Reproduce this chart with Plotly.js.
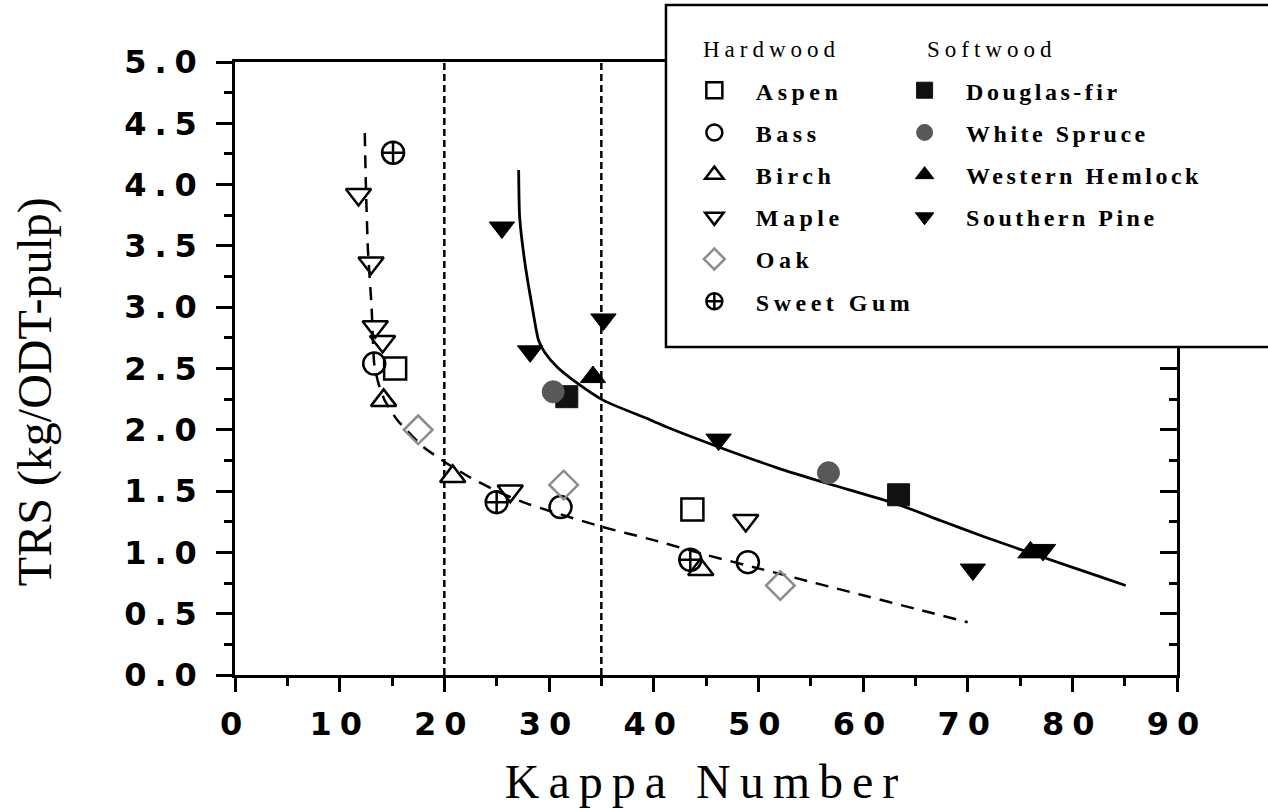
<!DOCTYPE html>
<html>
<head>
<meta charset="utf-8">
<script src="https://cdn.plot.ly/plotly-3.0.1.min.js"></script>
<style>
  html, body { margin: 0; padding: 0; background: #fff; }
  #chart { width: 1268px; height: 808px; }
  .xtick text, .ytick text { letter-spacing: 8px; }
  text.xtitle { letter-spacing: 9px; }
  .infolayer g[class^="legend"] text { letter-spacing: 4.5px; }
  .infolayer g.legend2 text { letter-spacing: 3.5px; }
  .infolayer g[class^="legend"], .infolayer g[class^="legend"] g { clip-path: none !important; }
  g.annotation[data-index="1"] text, g.annotation[data-index="2"] text { letter-spacing: 5px; }
</style>
</head>
<body>
<div id="chart"></div>
<script>
// ---- Hardwood data (Kappa number, TRS) ----
const aspenX = [15.3, 43.7];
const aspenY = [2.50, 1.35];
const bassX = [13.3, 31.1, 49.0];
const bassY = [2.54, 1.37, 0.92];
const birchX = [14.2, 20.8, 44.5];
const birchY = [2.24, 1.62, 0.86];
const mapleX = [11.8, 13.0, 13.4, 14.1, 26.3, 48.8];
const mapleY = [3.92, 3.36, 2.84, 2.72, 1.50, 1.26];
const oakX = [17.5, 31.4, 52.1];
const oakY = [2.00, 1.55, 0.73];
const gumX = [15.1, 25.0, 43.5];
const gumY = [4.26, 1.41, 0.94];

// ---- Softwood data ----
const firX = [31.7, 63.4];
const firY = [2.27, 1.47];
const spruceX = [30.4, 56.7];
const spruceY = [2.31, 1.65];
const hemlockX = [34.2, 76.0];
const hemlockY = [2.43, 1.00];
const pineX = [25.5, 28.2, 35.2, 46.2, 70.5, 77.2];
const pineY = [3.65, 2.64, 2.90, 1.92, 0.86, 1.02];

// ---- Fitted curves ----
const hwFitX = [12.4, 12.5, 12.7, 13.05, 13.3, 13.7, 14.3, 15.5, 18.0, 20, 22.5, 25, 27.5, 30, 35, 40, 45, 50, 55, 60, 65, 70];
const hwFitY = [4.42, 4.01, 3.47, 3.00, 2.54, 2.38, 2.24, 2.08, 1.86, 1.74, 1.61, 1.50, 1.41, 1.34, 1.21, 1.10, 0.98, 0.87, 0.76, 0.65, 0.54, 0.43];
const swFitX = [27.1, 27.2, 27.7, 28.4, 29.0, 29.6, 30.8, 32.7, 35.2, 39.7, 41.6, 46.2, 51.8, 56.7, 63.4, 67.4, 71.5, 77.2, 82.7, 85.1];
const swFitY = [4.12, 3.73, 3.36, 3.00, 2.73, 2.63, 2.51, 2.38, 2.24, 2.08, 2.01, 1.86, 1.69, 1.56, 1.39, 1.26, 1.13, 0.96, 0.80, 0.73];

// ---- Reference vertical lines ----
const vLineX = [20, 35];
const vLineY = [0, 5];

// ---- Axis ticks / texts ----
const xTicks = [0, 10, 20, 30, 40, 50, 60, 70, 80, 90];
const yTicks = [0.0, 0.5, 1.0, 1.5, 2.0, 2.5, 3.0, 3.5, 4.0, 4.5, 5.0];
const groupHeaders = ['Hardwood', 'Softwood'];

const MS = 22, LW = 2.5;
function pts(name, x, y, symbol, color, legend, lw) {
  return {
    type: 'scatter', mode: 'markers', name: name, x: x, y: y,
    legend: legend, legendgroup: name,
    marker: { symbol: symbol, size: MS, color: color, line: { color: color, width: lw } },
    hoverinfo: 'x+y+name'
  };
}

const traces = [];
vLineX.forEach(v => traces.push({
  type: 'scatter', mode: 'lines', x: [v, v], y: vLineY, yaxis: 'y2',
  line: { color: '#000', width: 2.5, dash: '7px,4px' }, showlegend: false, hoverinfo: 'skip'
}));
traces.push({
  type: 'scatter', mode: 'lines', x: hwFitX, y: hwFitY,
  line: { color: '#000', width: 2.5, dash: '13px,9px', shape: 'spline', smoothing: 0.5 },
  showlegend: false, hoverinfo: 'skip'
});
traces.push({
  type: 'scatter', mode: 'lines', x: swFitX, y: swFitY,
  line: { color: '#000', width: 2.8, shape: 'spline', smoothing: 0.6 },
  showlegend: false, hoverinfo: 'skip'
});

traces.push(pts('Aspen', aspenX, aspenY, 'square-open', '#000', 'legend', LW));
traces.push(pts('Bass', bassX, bassY, 'circle-open', '#000', 'legend', LW));
traces.push(pts('Birch', birchX, birchY, 'triangle-up-open', '#000', 'legend', LW));
traces.push(pts('Maple', mapleX, mapleY, 'triangle-down-open', '#000', 'legend', LW));
traces.push(pts('Oak', oakX, oakY, 'diamond-open', '#8c8c8c', 'legend', LW));
traces.push(pts('Sweet Gum', gumX, gumY, 'circle-cross-open', '#000', 'legend', LW));

traces.push(pts('Douglas-fir', firX, firY, 'square', '#111', 'legend2', 1));
traces.push(pts('White Spruce', spruceX, spruceY, 'circle', '#585858', 'legend2', 1));
traces.push(pts('Western Hemlock', hemlockX, hemlockY, 'triangle-up', '#000', 'legend2', 1));
traces.push(pts('Southern Pine', pineX, pineY, 'triangle-down', '#000', 'legend2', 1));

const tickFont = { family: 'DejaVu Sans', size: 32, weight: 'bold', color: '#000' };
const legFont = { family: 'Liberation Serif', size: 24, weight: 'bold', color: '#000' };
const headFont = { family: 'Liberation Serif', size: 23, color: '#000' };

const layout = {
  width: 1268, height: 808,
  margin: { l: 235, r: 91, t: 62, b: 133 },
  paper_bgcolor: '#fff', plot_bgcolor: '#fff',
  showlegend: true,
  xaxis: {
    range: [0, 90], tickmode: 'array', tickvals: xTicks, ticktext: xTicks.map(String),
    ticks: 'outside', ticklen: 14, tickwidth: 2.5, tickcolor: '#000', ticklabelstandoff: 5,
    showline: true, linewidth: 2.5, linecolor: '#000', mirror: true,
    showgrid: false, zeroline: false,
    minor: { dtick: 5, tick0: 0, ticks: 'outside', ticklen: 8, tickwidth: 2.5, tickcolor: '#000', showgrid: false },
    tickfont: tickFont,
    title: { text: 'Kappa Number', font: { family: 'Liberation Serif', size: 48, color: '#000' }, standoff: 24 }
  },
  yaxis: {
    range: [0, 5], tickmode: 'array', tickvals: yTicks, ticktext: yTicks.map(v => v.toFixed(1)),
    ticks: 'outside', ticklen: 16, tickwidth: 2.5, tickcolor: '#000', ticklabelstandoff: 5,
    showline: true, linewidth: 2.5, linecolor: '#000',
    showgrid: false, zeroline: false,
    minor: { dtick: 0.25, tick0: 0, ticks: 'outside', ticklen: 8, tickwidth: 2.5, tickcolor: '#000', showgrid: false },
    tickfont: tickFont
  },
  yaxis2: {
    overlaying: 'y', side: 'right', range: [0, 5], tickmode: 'array', tickvals: yTicks,
    ticks: 'inside', ticklen: 17, tickwidth: 2.5, tickcolor: '#000',
    showticklabels: false, showline: true, linewidth: 2.5, linecolor: '#000',
    showgrid: false, zeroline: false,
    minor: { dtick: 0.25, tick0: 0, ticks: 'inside', ticklen: 8, tickwidth: 2.5, tickcolor: '#000', showgrid: false }
  },
  annotations: [
    {
      text: 'TRS (kg/ODT-pulp)', xref: 'paper', yref: 'paper',
      x: -0.213, y: 0.462, xanchor: 'center', yanchor: 'middle', textangle: -90,
      showarrow: false, font: { family: 'Liberation Serif', size: 48, color: '#000' }
    },
    {
      text: groupHeaders[0], xref: 'paper', yref: 'paper',
      x: 0.570, y: 1.0196, xanchor: 'center', yanchor: 'middle',
      showarrow: false, font: headFont
    },
    {
      text: groupHeaders[1], xref: 'paper', yref: 'paper',
      x: 0.8035, y: 1.0196, xanchor: 'center', yanchor: 'middle',
      showarrow: false, font: headFont
    }
  ],
  shapes: [{
    type: 'rect', xref: 'paper', yref: 'paper',
    x0: 0.4575, x1: 1.12, y0: 0.535, y1: 1.093,
    fillcolor: '#fff', line: { color: '#000', width: 2.5 }, layer: 'above'
  }],
  legend: {
    x: 0.4648, y: 0.990, xanchor: 'left', yanchor: 'top',
    bgcolor: 'rgba(0,0,0,0)', borderwidth: 0, font: legFont,
    traceorder: 'grouped', tracegroupgap: 8, itemwidth: 73, itemclick: false, itemdoubleclick: false
  },
  legend2: {
    x: 0.688, y: 0.990, xanchor: 'left', yanchor: 'top',
    bgcolor: 'rgba(0,0,0,0)', borderwidth: 0, font: legFont,
    traceorder: 'grouped', tracegroupgap: 8, itemwidth: 73, itemclick: false, itemdoubleclick: false
  }
};

Plotly.newPlot('chart', traces, layout, { displayModeBar: false });
</script>
</body>
</html>
